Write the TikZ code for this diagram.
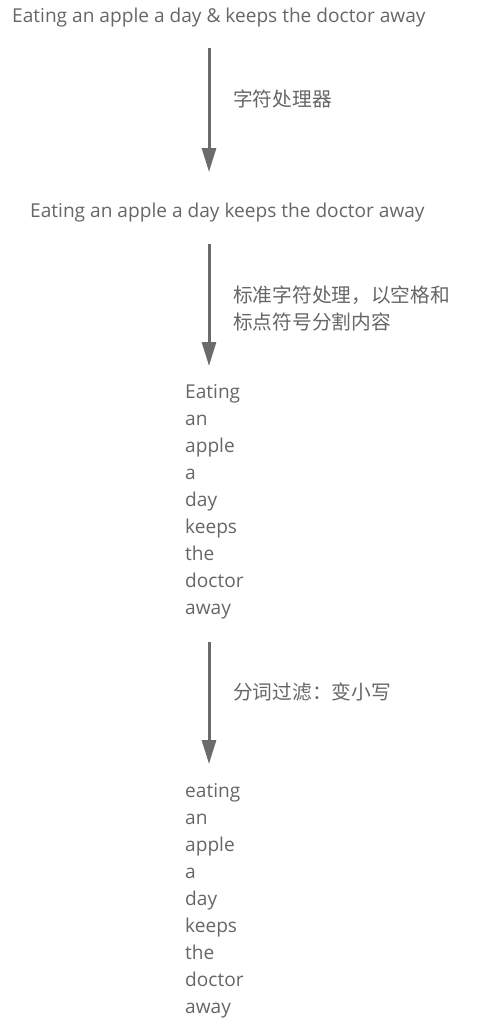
\documentclass[tikz,border=0pt]{standalone}
\usepackage{fontspec}
\setmainfont{Open Sans}
\newfontfamily\cjk{Noto Sans CJK SC}
\usetikzlibrary{arrows.meta}
\definecolor{txtgray}{HTML}{666666}
\definecolor{arrgray}{HTML}{6B6B6B}
\tikzset{
  txt/.style={inner sep=0pt,text=txtgray,font=\fontsize{19.1}{27}\selectfont},
  note/.style={inner sep=0pt,text=txtgray,align=left,font=\cjk\fontsize{19.7}{27}\selectfont},
  arr/.style={draw=arrgray,line width=3pt,-{Triangle[length=24pt,width=14pt]}}
}

\begin{document}
\begin{tikzpicture}[x=1pt,y=-1pt]
        \useasboundingbox (0,0) rectangle (477,1036);
        % input text
        \node[txt,anchor=base west] (s1) at (12,22) {Eating an apple a day \& keeps the doctor away};
        \coordinate (a1) at (209,48);
        \coordinate (b1) at (209,172);
        \draw[arr] (a1) -- (b1);
        \node[note,anchor=west] (n1) at (233,99) {字符处理器};
        % after char filter
        \node[txt,anchor=base west] (s2) at (30,217) {Eating an apple a day keeps the doctor away};
        \coordinate (a2) at (209,244);
        \coordinate (b2) at (209,366);
        \draw[arr] (a2) -- (b2);
        \node[note,anchor=west] (n2) at (233,308.5) {标准字符处理，以空格和\\标点符号分割内容};
        % tokens
        \foreach \w [count=\i] in {Eating,an,apple,a,day,keeps,the,doctor,away}
          \node[txt,anchor=base west] (t\i) at (185,{398+27*(\i-1)}) {\w};
        \coordinate (a3) at (209,642);
        \coordinate (b3) at (209,764);
        \draw[arr] (a3) -- (b3);
        \node[note,anchor=west] (n3) at (233,692) {分词过滤：变小写};
        % lower-cased tokens
        \foreach \w [count=\i] in {eating,an,apple,a,day,keeps,the,doctor,away}
          \node[txt,anchor=base west] (u\i) at (185,{797+27*(\i-1)}) {\w};
\end{tikzpicture}
\end{document}
